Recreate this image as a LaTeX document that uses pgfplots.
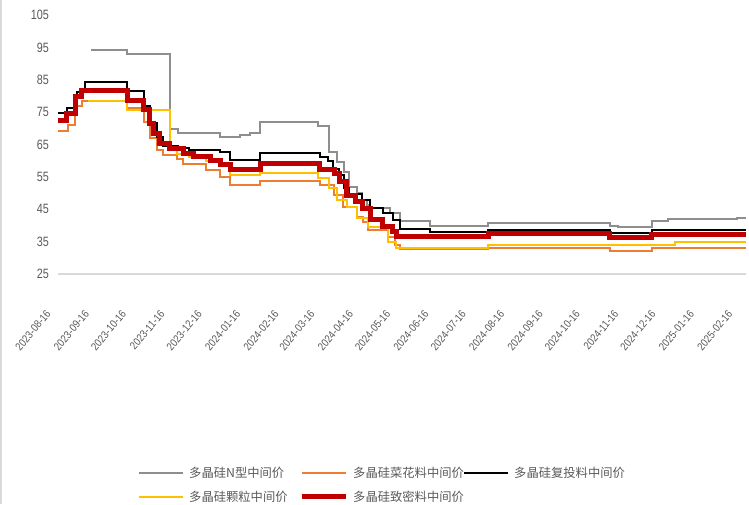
\documentclass[border=0pt]{standalone}
\usepackage{fontspec}
\setmainfont{Liberation Sans}
\newfontfamily\narrowfont[FakeStretch=0.8]{Liberation Sans}
\newfontfamily\cjk{Noto Sans CJK SC}
\usepackage{graphicx}
\usepackage{pgfplots}
\pgfplotsset{compat=1.18}
\definecolor{cgray}{HTML}{8E8E8E}
\definecolor{corange}{HTML}{ED7D31}
\definecolor{cyellow}{HTML}{FFC000}
\definecolor{cred}{HTML}{C00000}
\definecolor{ctext}{HTML}{595959}
\definecolor{caxis}{HTML}{D9D9D9}
\newsavebox\xlbox
\newcommand\xl[1]{\sbox\xlbox{\rotatebox{50}{\scalebox{0.85}[1]{#1}}}\makebox[0pt][r]{\raisebox{-\dimexpr 35pt+\ht\xlbox\relax}[0pt][0pt]{\usebox\xlbox}\hspace*{6pt}}}
\begin{document}
\begin{tikzpicture}
\useasboundingbox (0,0) rectangle (749pt,504pt);
\draw[caxis, line width=2pt] (1pt,0pt) -- (1pt,504pt);
\begin{axis}[
  at={(58pt,230pt)}, anchor=south west,
  scale only axis, width=688pt, height=259pt,
  xmin=0, xmax=555, ymin=25, ymax=105,
  axis lines*=left,
  x axis line style={caxis, line width=1.6pt},
  y axis line style={draw=none},
  major tick length=0pt,
  ytick={25,35,...,105},
  xtick={0,31,61,92,122,153,184,213,244,274,305,335,366,397,427,458,488,519,550},
  xticklabels={\xl{2023-08-16},\xl{2023-09-16},\xl{2023-10-16},\xl{2023-11-16},\xl{2023-12-16},\xl{2024-01-16},\xl{2024-02-16},\xl{2024-03-16},\xl{2024-04-16},\xl{2024-05-16},\xl{2024-06-16},\xl{2024-07-16},\xl{2024-08-16},\xl{2024-09-16},\xl{2024-10-16},\xl{2024-11-16},\xl{2024-12-16},\xl{2025-01-16},\xl{2025-02-16}},
  /pgf/number format/assume math mode=true,
  yticklabel style={font=\narrowfont\fontsize{13.5}{15}\selectfont, text=ctext, anchor=east, inner sep=0pt, xshift=-9pt},
  xticklabel style={font=\fontsize{11}{13}\selectfont, text=ctext, anchor=north east, inner sep=0pt},
  clip=false,
  legend style={draw=none, fill=none, at={(0.1163,-0.745)}, anchor=north west,
    inner sep=0pt, column sep=0pt, row sep=12pt,
    nodes={inner sep=0pt, anchor=west, text=ctext, font=\cjk\fontsize{12.3}{14}\selectfont},
    /tikz/every odd column/.append style={column sep=5pt}},
  legend columns=3,
  legend image code/.code={\draw[#1] (0pt,0pt) -- (44pt,0pt);},
]
% N-type
\addplot[const plot, cgray, line width=2pt] coordinates {
(27,94.2)(56,93.0)(90,69.8)(97,68.6)(131,67.2)(147,68.0)(155,68.6)(163,71.8)(210,70.6)(219,62.8)(225,59.5)(231,56.6)(235,52.0)(241,49.9)(245,47.9)(249,46.3)(252,45.3)(268,43.7)(276,41.5)(300,39.9)(347,40.9)(445,39.8)(452,39.4)(479,41.4)(492,41.9)(548,42.4)(555,42.4)};
\addlegendentry{\makebox[110pt][l]{多晶硅N型中间价}}
% cauliflower
\addplot[const plot, corange, line width=2pt] coordinates {
(0,69.3)(8,71.0)(14,76.9)(19,78.4)(56,76.2)(69,72.0)(74,66.9)(80,63.3)(85,61.8)(96,60.5)(101,59.0)(119,57.1)(131,55.1)(139,52.5)(163,53.6)(211,52.4)(223,49.4)(230,45.8)(241,42.7)(246,41.2)(250,38.6)(266,36.3)(272,34.0)(276,32.8)(347,33.0)(445,32.1)(479,33.0)(555,33.0)};
\addlegendentry{\makebox[110pt][l]{多晶硅菜花料中间价}}
% recharge
\addplot[const plot, black, line width=2pt] coordinates {
(0,74.8)(7,76.2)(15,81.3)(22,84.4)(56,81.5)(69,76.9)(74,71.5)(80,67.4)(85,64.5)(97,63.8)(106,63.3)(131,62.6)(139,60.3)(163,62.4)(211,61.0)(218,59.8)(222,57.5)(227,55.6)(231,51.5)(235,49.7)(245,47.9)(252,45.3)(262,43.7)(270,41.7)(276,38.8)(300,37.9)(347,38.7)(445,37.8)(479,38.5)(555,38.5)};
\addlegendentry{多晶硅复投料中间价}
% granular
\addplot[const plot, cyellow, line width=2pt] coordinates {
(24,78.4)(56,75.8)(90,63.5)(96,62.0)(106,61.0)(119,60.0)(131,58.6)(139,55.6)(163,56.3)(210,54.5)(219,51.5)(225,48.0)(233,45.8)(241,42.2)(250,39.6)(266,35.0)(273,33.0)(347,34.0)(498,34.8)(555,34.8)};
\addlegendentry{\makebox[110pt][l]{多晶硅颗粒中间价}}
% dense
\addplot[const plot, cred, line width=5pt] coordinates {
(0,72.4)(7,74.6)(14,79.8)(19,81.8)(56,78.7)(69,75.7)(74,71.5)(77,68.5)(82,65.4)(90,63.8)(101,62.3)(109,61.2)(123,60.2)(131,58.7)(139,57.2)(163,59.0)(211,57.4)(223,56.1)(227,53.5)(233,49.4)(240,47.3)(246,45.3)(252,41.7)(262,39.8)(270,38.1)(273,36.5)(347,37.4)(445,36.3)(479,37.3)(555,37.3)};
\addlegendentry{\makebox[110pt][l]{多晶硅致密料中间价}}
\end{axis}
\end{tikzpicture}
\end{document}
